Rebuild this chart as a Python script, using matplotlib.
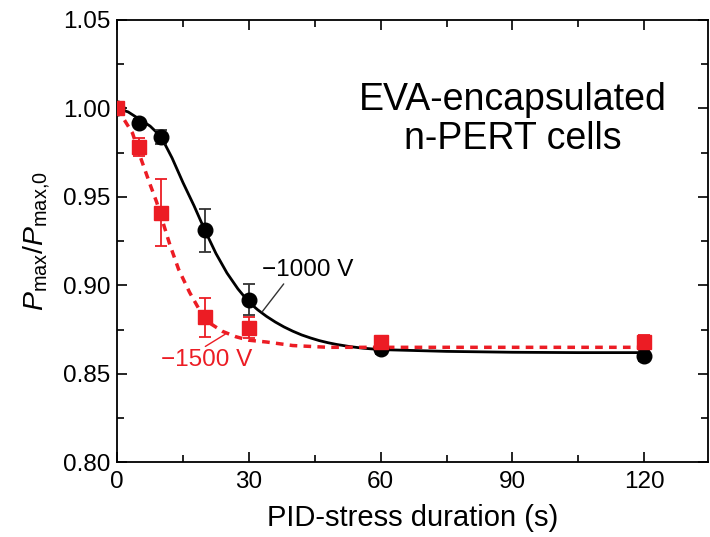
import matplotlib
matplotlib.use("Agg")
import matplotlib.pyplot as plt
from matplotlib.ticker import MultipleLocator

plt.rcParams['font.family'] = ['Liberation Sans', 'DejaVu Sans']
plt.rcParams['mathtext.fontset'] = 'custom'
plt.rcParams['mathtext.rm'] = 'Liberation Sans'
plt.rcParams['mathtext.it'] = 'Liberation Sans:italic'

# measured data
t_pts = [0, 5, 10, 20, 30, 60, 120]
v1000 = [1.000, 0.992, 0.984, 0.931, 0.892, 0.864, 0.860]
e1000 = [0.000, 0.002, 0.004, 0.012, 0.009, 0.003, 0.003]
v1500 = [1.000, 0.978, 0.941, 0.882, 0.876, 0.868, 0.868]
e1500 = [0.000, 0.005, 0.019, 0.011, 0.006, 0.003, 0.004]

# fitted curves
fit1000_t = [0, 2.5, 5, 7.5, 10, 12.5, 15, 17.5, 20, 22.5, 25, 27.5, 30, 32, 34, 36, 38, 40, 42,
             44, 46, 48, 50, 53, 56, 60, 75, 90, 105, 120]
fit1000_v = [1.000, 0.998, 0.994, 0.990, 0.984, 0.972, 0.958, 0.945, 0.931, 0.918, 0.907, 0.898, 0.8905,
             0.8862, 0.8825, 0.8793, 0.8765, 0.8741, 0.8720, 0.8703, 0.8688, 0.8676, 0.8666, 0.8654,
             0.8645, 0.8637, 0.8627, 0.8622, 0.862, 0.862]
fit1500_t = [0, 1.5, 3.5, 5.5, 7.5, 9, 12, 14, 16.5, 19, 21.5, 24, 27, 30, 34, 40, 48, 60, 90, 120]
fit1500_v = [1.000, 0.994, 0.986, 0.971, 0.957, 0.947, 0.923, 0.909, 0.896, 0.885, 0.878, 0.874, 0.871,
             0.869, 0.868, 0.866, 0.865, 0.865, 0.865, 0.865]

x_ticks = [0, 30, 60, 90, 120]
y_ticks = [0.80, 0.85, 0.90, 0.95, 1.00, 1.05]

RED = '#ec1c24'

fig = plt.figure(figsize=(7.10, 5.37), dpi=100)
ax = fig.add_axes([0.165, 0.139, 0.832, 0.824])

ax.plot(fit1000_t, fit1000_v, color='black', lw=2.0, zorder=2)
ax.plot(fit1500_t, fit1500_v, color=RED, lw=2.5, linestyle=(0, (2.2, 1.8)), zorder=3)

ax.errorbar(t_pts, v1000, yerr=e1000, fmt='o', color='black', ecolor='#333333',
            markersize=10.5, capsize=4, elinewidth=1.3, capthick=1.3, zorder=4)
ax.errorbar(t_pts, v1500, yerr=e1500, fmt='s', color=RED, ecolor=RED,
            markersize=10, capsize=4, elinewidth=1.3, capthick=1.3, zorder=5)

ax.set_xlim(0, 134.5)
ax.set_ylim(0.80, 1.05)
ax.set_xticks(x_ticks)
ax.set_yticks(y_ticks)
ax.set_yticklabels([f'{v:.2f}' for v in y_ticks])
ax.xaxis.set_minor_locator(MultipleLocator(15))
ax.yaxis.set_minor_locator(MultipleLocator(0.025))
ax.tick_params(which='both', direction='in', top=True, right=True, labelsize=17.5, width=1.2)
ax.tick_params(which='major', length=7)
ax.tick_params(which='minor', length=5)
ax.tick_params(axis='y', pad=5)
ax.tick_params(axis='x', pad=6)
for s in ax.spines.values():
    s.set_linewidth(1.3)

ax.set_xlabel('PID-stress duration (s)', fontsize=21, labelpad=8)
ax.set_ylabel(r'$P_{\rm max}/P_{\rm max{,}0}$', fontsize=20.5, labelpad=8)

ax.text(90, 0.9935, 'EVA-encapsulated\nn-PERT cells', fontsize=27, ha='center', va='center',
        linespacing=1.1)

ax.annotate('\u22121000 V', xy=(33.0, 0.885), xytext=(33.0, 0.9086), fontsize=17.5,
            ha='left', va='center', color='black',
            arrowprops=dict(arrowstyle='-', color='#333333', lw=1.0, shrinkA=0, shrinkB=0,
                            relpos=(0.26, 0.0)))
ax.annotate('\u22121500 V', xy=(24.6, 0.8724), xytext=(20.3, 0.8577), fontsize=17.5,
            ha='center', va='center', color=RED,
            arrowprops=dict(arrowstyle='-', color=RED, lw=1.0, shrinkA=0, shrinkB=0,
                            relpos=(0.44, 1.0)))

fig.savefig('out.png', dpi=100)
